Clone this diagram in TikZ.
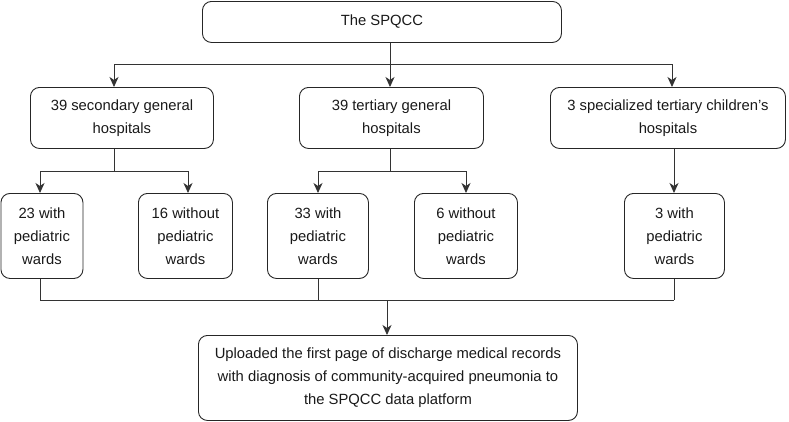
\documentclass[tikz,border=0pt]{standalone}
\usepackage{fontspec}
\setmainfont{Liberation Sans}
\usetikzlibrary{arrows.meta}
\begin{document}
\begin{tikzpicture}[x=1pt,y=-1pt,
  box/.style={draw=black!85,line width=0.9pt,rounded corners=9pt,rectangle,anchor=north west,inner sep=0pt,align=center,
    font=\fontsize{14.8}{23}\selectfont,text=black!90},
  ln/.style={draw=black!80,line width=0.9pt},
  arr/.style={ln,-{Stealth[length=10pt,width=9pt,inset=3pt]}}]
\useasboundingbox (0,0) rectangle (789,421);
% boxes
\node[box,minimum width=359pt,minimum height=41pt] (top) at (202,1) {The SPQCC};
\node[box,minimum width=183pt,minimum height=61pt] (A) at (30,87) {39 secondary general\\hospitals};
\node[box,minimum width=184pt,minimum height=61pt] (B) at (299,87) {39 tertiary general\\hospitals};
\node[box,minimum width=235pt,minimum height=61pt] (C) at (550,87) {3 specialized tertiary children’s\\hospitals};
\node[box,minimum width=82pt,minimum height=85pt] (s1) at (0.5,193) {23 with\\pediatric\\wards};
\node[box,minimum width=94pt,minimum height=85pt] (s2) at (138,193) {16 without\\pediatric\\wards};
\node[box,minimum width=101pt,minimum height=85pt] (s3) at (267,193) {33 with\\pediatric\\wards};
\node[box,minimum width=103pt,minimum height=85pt] (s4) at (414,193) {6 without\\pediatric\\wards};
\node[box,minimum width=100pt,minimum height=85pt] (s5) at (624,193) {3 with\\pediatric\\wards};
\node[box,minimum width=379pt,minimum height=85pt] (fin) at (198,335) {Uploaded the first page of discharge medical records\\with diagnosis of community-acquired pneumonia to\\the SPQCC data platform};
% junction coordinates
\coordinate (j0) at (390,64);
\coordinate (jl) at (114,64);
\coordinate (jr) at (672,64);
\coordinate (ja) at (114,171);
\coordinate (ja1) at (40,171);
\coordinate (ja2) at (188,171);
\coordinate (jb) at (390,171);
\coordinate (jb1) at (318,171);
\coordinate (jb2) at (466,171);
\coordinate (jc) at (674,148);
\coordinate (k1) at (40,300);
\coordinate (k3) at (318,300);
\coordinate (k5) at (674,300);
\coordinate (kd) at (387,300);
% top level
\draw[ln] (top.south -| j0) -- (j0);
\draw[ln] (jl) -- (jr);
\draw[arr] (jl) -- (A.north -| jl);
\draw[arr] (j0) -- (B.north -| j0);
\draw[arr] (jr) -- (C.north -| jr);
% A
\draw[ln] (A.south -| ja) -- (ja);
\draw[ln] (ja1) -- (ja2);
\draw[arr] (ja1) -- (s1.north -| ja1);
\draw[arr] (ja2) -- (s2.north -| ja2);
% B
\draw[ln] (B.south -| jb) -- (jb);
\draw[ln] (jb1) -- (jb2);
\draw[arr] (jb1) -- (s3.north -| jb1);
\draw[arr] (jb2) -- (s4.north -| jb2);
% C
\draw[arr] (C.south -| jc) -- (s5.north -| jc);
% bottom
\draw[ln] (s1.south -| k1) -- (k1);
\draw[ln] (s3.south -| k3) -- (k3);
\draw[ln] (s5.south -| k5) -- (k5);
\draw[ln] (k1) -- (k5);
\draw[arr] (kd) -- (fin.north -| kd);
\end{tikzpicture}
\end{document}
